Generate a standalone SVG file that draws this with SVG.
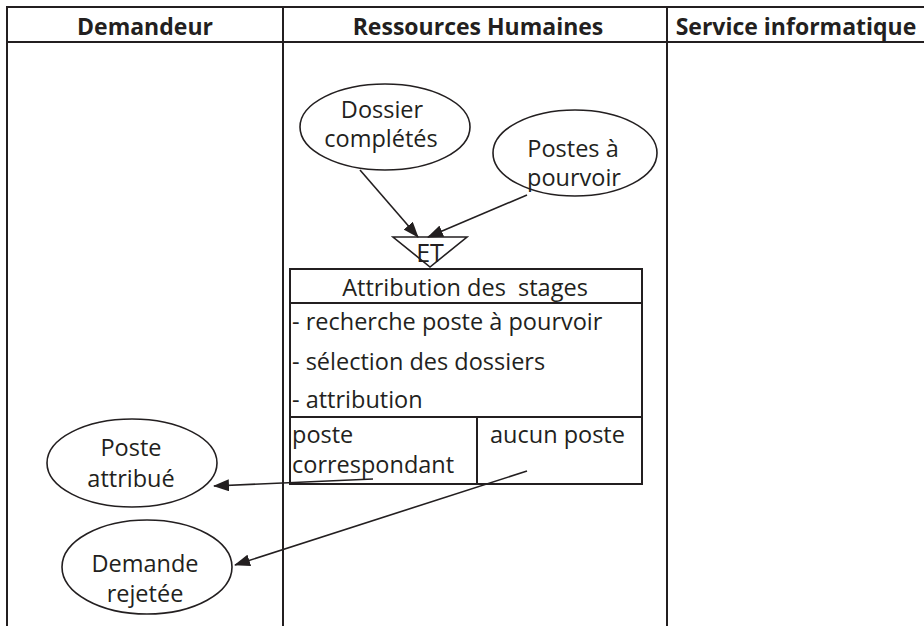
<svg xmlns="http://www.w3.org/2000/svg" width="924" height="626" viewBox="0 0 924 626">
<defs>
<style>
.ln{stroke:#231f20;stroke-width:2;fill:none}
.el{stroke:#231f20;stroke-width:1.6;fill:#fff}
.t{font-family:"Open Sans","Noto Sans",sans-serif;font-size:23.5px;fill:#231f20}
.h{font-family:"Open Sans","Noto Sans",sans-serif;font-size:23px;font-weight:bold;fill:#231f20;text-anchor:middle}
.c{text-anchor:middle}
.cn{stroke:#231f20;stroke-width:1.6;fill:none;marker-end:url(#ah)}
</style>
<marker id="ah" viewBox="0 0 16 12" refX="15" refY="6" markerWidth="16" markerHeight="12" markerUnits="userSpaceOnUse" orient="auto">
<path d="M0,0 L16,6 L0,12 Z" fill="#231f20"/>
</marker>
</defs>
<rect width="924" height="626" fill="#fff"/>
<g id="lanes">
<line class="ln" x1="7" y1="7" x2="924" y2="7"/>
<line class="ln" x1="7" y1="42" x2="924" y2="42"/>
<line class="ln" x1="7" y1="6" x2="7" y2="626"/>
<line class="ln" x1="283" y1="6" x2="283" y2="626"/>
<line class="ln" x1="667" y1="6" x2="667" y2="626"/>
<text class="h" x="145" y="35">Demandeur</text>
<text class="h" x="478" y="35">Ressources Humaines</text>
<text class="h" x="796" y="35">Service informatique</text>
</g>
<g id="dossier">
<ellipse class="el" cx="385" cy="127" rx="85" ry="43"/>
<text class="t c" x="382" y="118">Dossier</text>
<text class="t c" x="381" y="147">complétés</text>
</g>
<g id="postes">
<ellipse class="el" cx="575" cy="153" rx="82" ry="43"/>
<text class="t c" x="573" y="157">Postes à</text>
<text class="t c" x="574" y="186">pourvoir</text>
</g>
<g id="et">
<polygon class="ln" points="393,237 467,237 430,267" style="stroke-width:1.6"/>
<text class="t c" x="430" y="262" style="font-size:25px">ET</text>
</g>
<g id="attribution">
<rect class="ln" x="290" y="269" width="352" height="215"/>
<line class="ln" x1="290" y1="303" x2="642" y2="303"/>
<line class="ln" x1="290" y1="417" x2="642" y2="417"/>
<line class="ln" x1="477" y1="417" x2="477" y2="484"/>
<text class="t c" x="465" y="296" xml:space="preserve">Attribution des  stages</text>
<text class="t" x="292" y="330">- recherche poste à pourvoir</text>
<text class="t" x="292" y="370">- sélection des dossiers</text>
<text class="t" x="292" y="408">- attribution</text>
<text class="t" x="292" y="443">poste</text>
<text class="t" x="292" y="473">correspondant</text>
<text class="t" x="490" y="443">aucun poste</text>
</g>
<g id="poste-attribue">
<ellipse class="el" cx="132" cy="463" rx="85" ry="44"/>
<text class="t c" x="131" y="456">Poste</text>
<text class="t c" x="131" y="487">attribué</text>
</g>
<g id="demande-rejetee">
<ellipse class="el" cx="147" cy="567" rx="85" ry="47"/>
<text class="t c" x="145" y="572">Demande</text>
<text class="t c" x="145" y="602">rejetée</text>
</g>
<g id="connectors">
<line class="cn" x1="360" y1="170" x2="418" y2="237"/>
<line class="cn" x1="527" y1="195" x2="428" y2="237"/>
<line class="cn" x1="373" y1="479" x2="214" y2="486"/>
<line class="cn" x1="527" y1="471" x2="235" y2="565"/>
</g>
</svg>
